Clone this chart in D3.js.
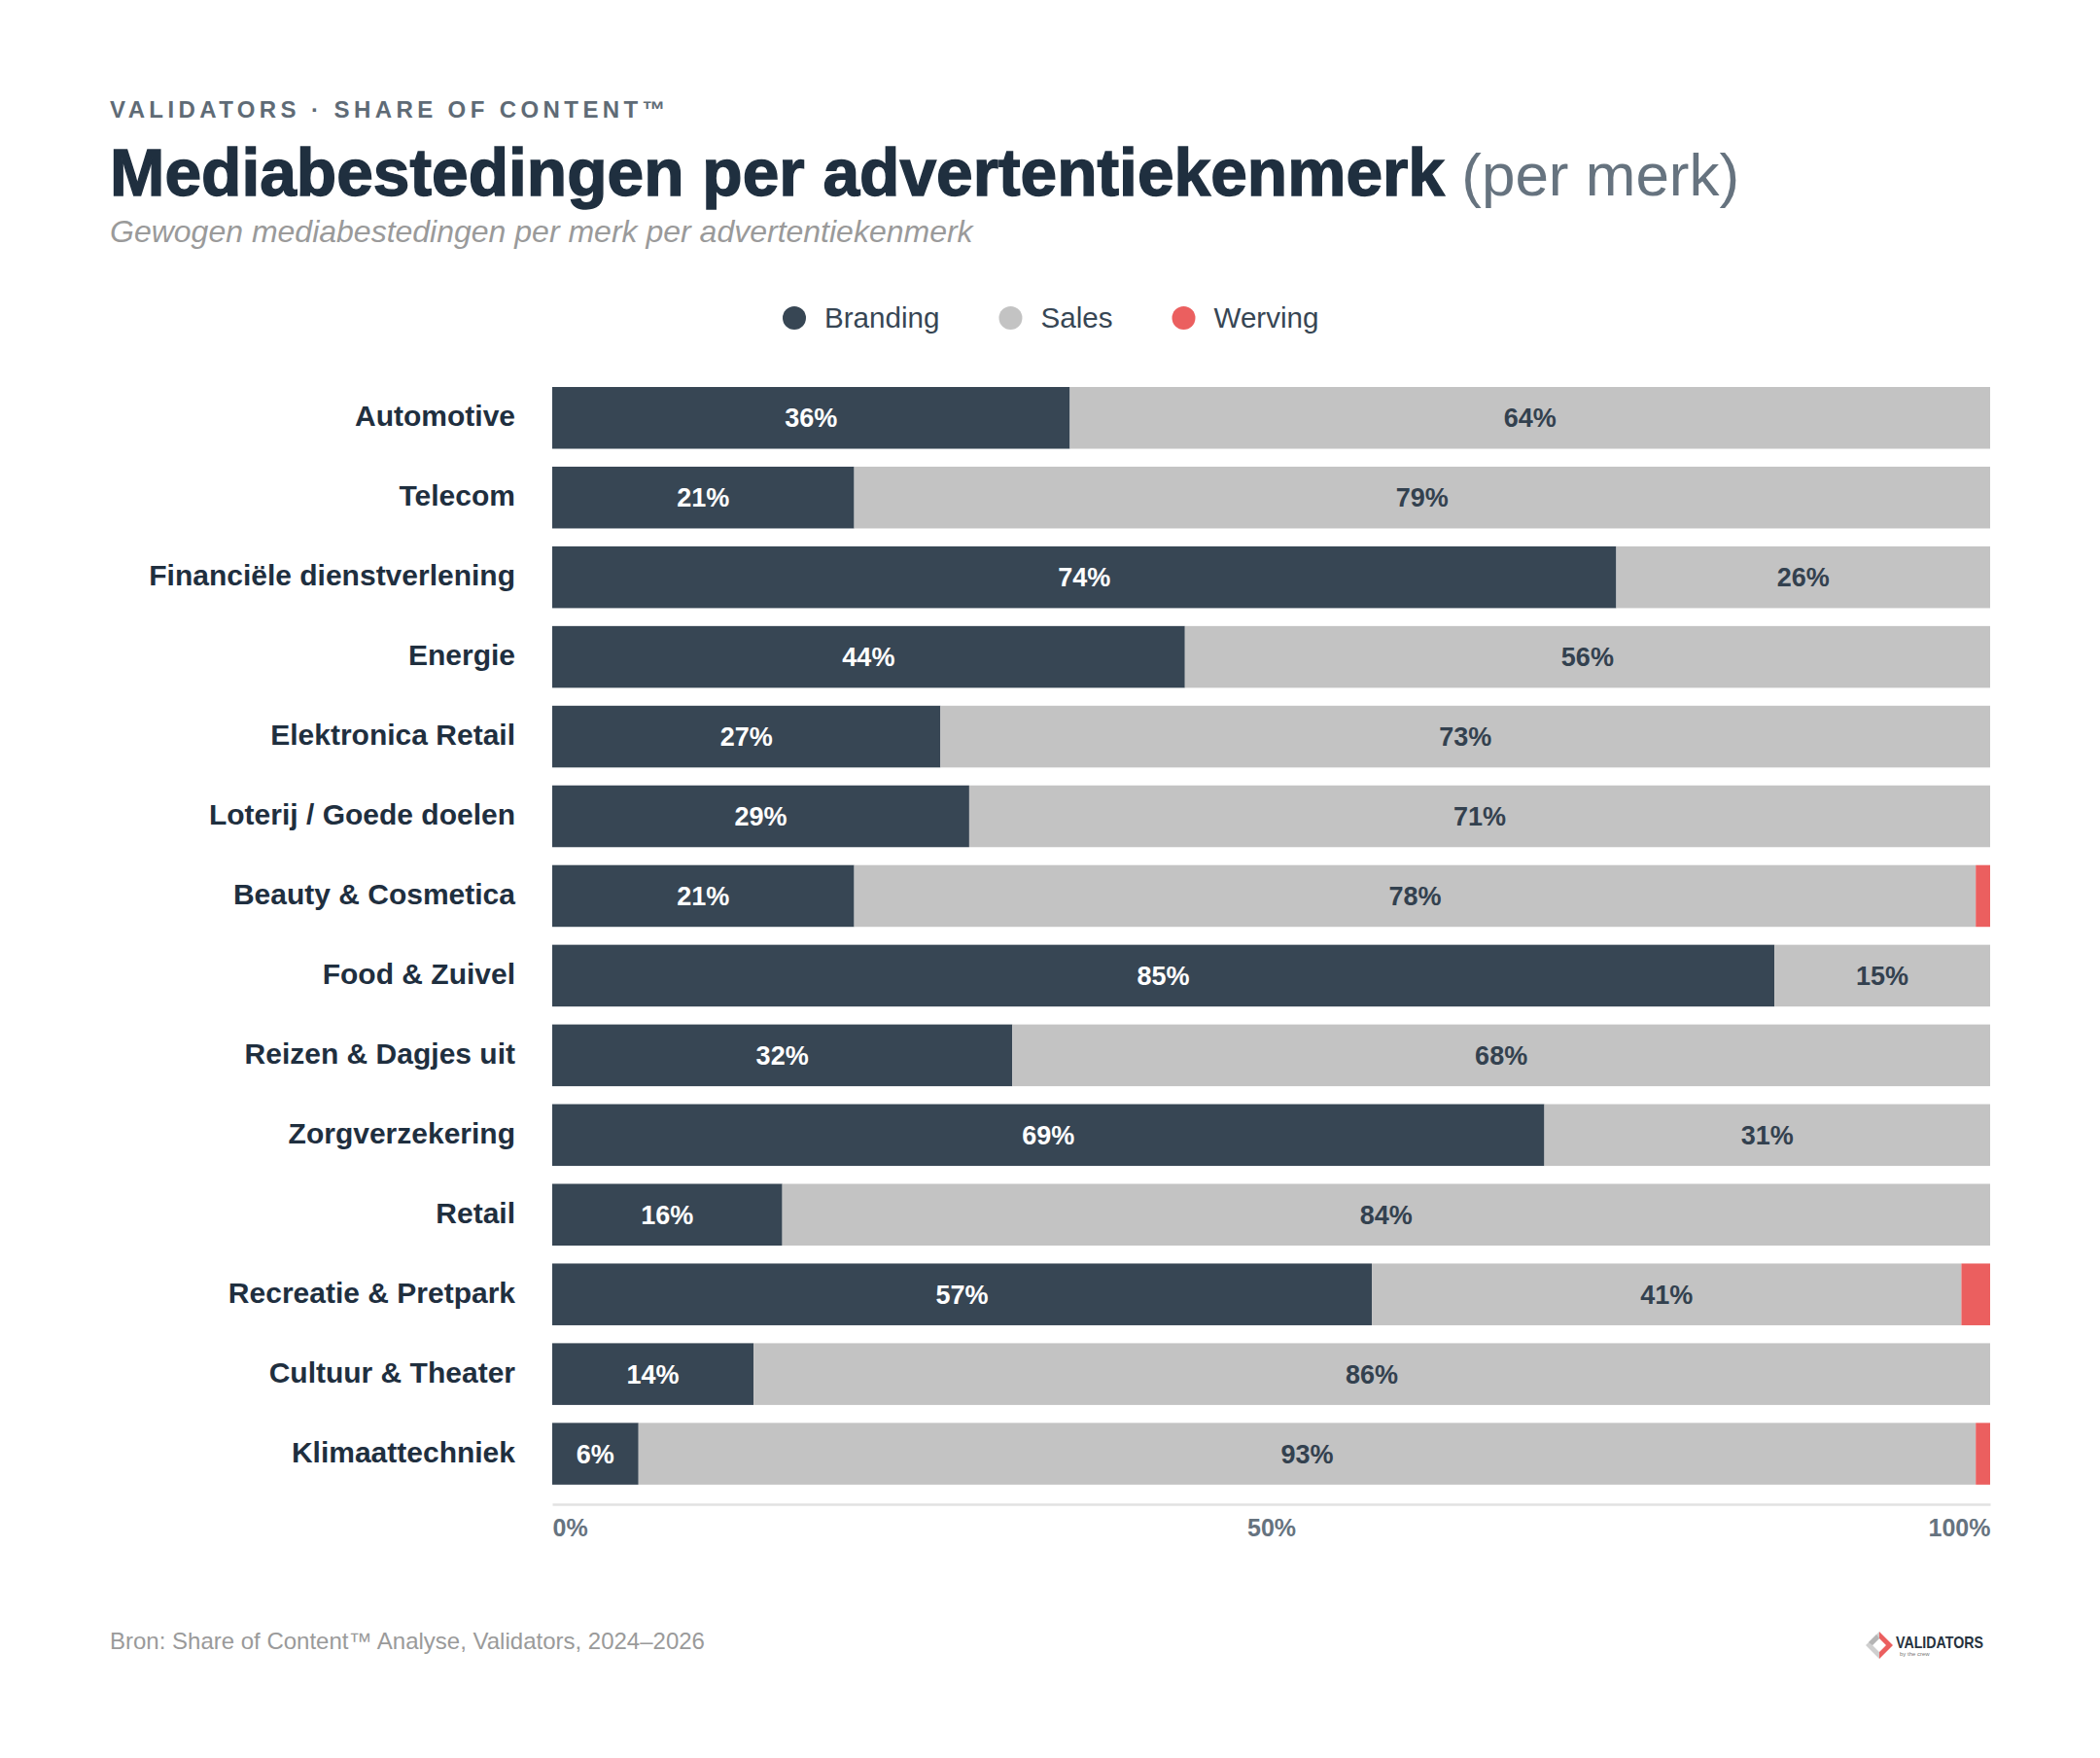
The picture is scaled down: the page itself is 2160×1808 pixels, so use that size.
<!DOCTYPE html>
<html>
<head>
<meta charset="utf-8">
<script src="https://cdn.jsdelivr.net/npm/d3@7"></script>
<style>
  html, body { margin: 0; padding: 0; background: #ffffff; }
  svg { display: block; font-family: "Liberation Sans", Arial, Helvetica, sans-serif; }
</style>
</head>
<body>
<svg id="chart" width="2160" height="1808"></svg>
<script>
const categories = [
  "Automotive", "Telecom", "Financiële dienstverlening", "Energie",
  "Elektronica Retail", "Loterij / Goede doelen", "Beauty & Cosmetica",
  "Food & Zuivel", "Reizen & Dagjes uit", "Zorgverzekering", "Retail",
  "Recreatie & Pretpark", "Cultuur & Theater", "Klimaattechniek"
];
const branding = [36, 21, 74, 44, 27, 29, 21, 85, 32, 69, 16, 57, 14, 6];
const sales    = [64, 79, 26, 56, 73, 71, 78, 15, 68, 31, 84, 41, 86, 93];
const werving  = [0, 0, 0, 0, 0, 0, 1, 0, 0, 0, 0, 2, 0, 1];
const seriesNames = ["Branding", "Sales", "Werving"];
const seriesColors = ["#374654", "#c3c3c3", "#eb5f5f"];
const labelColors = ["#ffffff", "#33414f", "#ffffff"];
const xTickValues = [0, 50, 100];

const svg = d3.select("#chart");
const W = 2160, H = 1808;
svg.append("rect").attr("width", W).attr("height", H).attr("fill", "#ffffff");

// Header
svg.append("text")
  .attr("x", 113).attr("y", 121)
  .attr("font-size", 24).attr("font-weight", 700)
  .attr("letter-spacing", 4.4)
  .attr("fill", "#5f6b76")
  .text("VALIDATORS · SHARE OF CONTENT™");

const title = svg.append("text")
  .attr("x", 113).attr("y", 201)
  .attr("font-size", 67.7).attr("font-weight", 700)
  .attr("fill", "#1f2f3f");
title.append("tspan")
  .attr("stroke", "#1f2f3f").attr("stroke-width", 1.4).attr("paint-order", "stroke")
  .text("Mediabestedingen per advertentiekenmerk");
title.append("tspan").attr("font-weight", 400).attr("font-size", 62)
  .attr("fill", "#66737f").text(" (per merk)");

svg.append("text")
  .attr("x", 113).attr("y", 249)
  .attr("font-size", 32).attr("font-style", "italic")
  .attr("fill", "#9a9a9a")
  .text("Gewogen mediabestedingen per merk per advertentiekenmerk");

// Legend
const legend = svg.append("g");
let lx = 817;
seriesNames.forEach((name, i) => {
  const g = legend.append("g").attr("transform", `translate(${lx},327)`);
  g.append("circle").attr("r", 12).attr("fill", seriesColors[i]);
  const t = g.append("text").attr("x", 31).attr("dy", "0.35em")
    .attr("font-size", 29.6).attr("fill", "#374654").text(name);
  const w = t.node().getComputedTextLength();
  lx += 31 + w + 73;
});

// Scales
const x = d3.scaleLinear().domain([0, 100]).range([568, 2047]);
const y = d3.scaleBand().domain(categories)
  .range([398 - 0.225 * 81.95, 398 - 0.225 * 81.95 + 81.95 * (14 + 0.225)])
  .paddingInner(0.225).paddingOuter(0.225);

const rows = categories.map((c, i) => ({ cat: c, Branding: branding[i], Sales: sales[i], Werving: werving[i] }));
const stacked = d3.stack().keys(seriesNames)(rows);

const barsG = svg.append("g");
stacked.forEach((layer, si) => {
  const lg = barsG.append("g");
  lg.selectAll("rect").data(layer).join("rect")
    .attr("x", d => x(d[0]))
    .attr("y", d => y(d.data.cat))
    .attr("width", d => Math.max(0, x(d[1]) - x(d[0])))
    .attr("height", y.bandwidth())
    .attr("fill", seriesColors[si]);
  lg.selectAll("text").data(layer.filter(d => d[1] - d[0] >= 3)).join("text")
    .attr("x", d => (x(d[0]) + x(d[1])) / 2)
    .attr("y", d => y(d.data.cat) + y.bandwidth() / 2)
    .attr("dy", "0.35em")
    .attr("text-anchor", "middle")
    .attr("font-size", 27).attr("font-weight", 700)
    .attr("fill", labelColors[si])
    .text(d => Math.round(d[1] - d[0]) + "%");
});

// Category labels
svg.append("g").selectAll("text").data(categories).join("text")
  .attr("x", 530)
  .attr("y", d => y(d) + y.bandwidth() / 2)
  .attr("dy", "0.28em")
  .attr("text-anchor", "end")
  .attr("font-size", 30).attr("font-weight", 700)
  .attr("fill", "#1f2f3f")
  .text(d => d);

// X axis
const axisG = svg.append("g").attr("transform", "translate(0,1547)")
  .call(d3.axisBottom(x).tickValues(xTickValues).tickFormat(d => d + "%").tickSize(0).tickSizeOuter(0));
axisG.select(".domain").attr("stroke", "#e2e2e2").attr("stroke-width", 2.5);
axisG.selectAll(".tick text")
  .attr("y", 15)
  .attr("font-size", 25).attr("font-weight", 700)
  .attr("font-family", "'Liberation Sans', Arial, sans-serif")
  .attr("fill", "#66737f")
  .attr("text-anchor", (d, i) => i === 0 ? "start" : (i === xTickValues.length - 1 ? "end" : "middle"));

// Footer
svg.append("text")
  .attr("x", 113).attr("y", 1696)
  .attr("font-size", 24).attr("fill", "#9a9a9a")
  .text("Bron: Share of Content™ Analyse, Validators, 2024–2026");

// Logo
const logo = svg.append("g").attr("transform", "translate(1933,1692)");
logo.append("path").attr("d", "M0,-14 L-14,0 L0,14 L0,7 L-7,0 L0,-7 Z").attr("fill", "#cfcfcf");
logo.append("path").attr("d", "M-3,-11 L-11,-3 L-7,0 L0,-7 Z").attr("fill", "#b5b5b5");
logo.append("path").attr("d", "M0,-14 L14,0 L0,14 L0,7 L7,0 L0,-7 Z").attr("fill", "#eb5f5f");
logo.append("text").attr("x", 17).attr("y", 3)
  .attr("font-size", 17).attr("font-weight", 700).attr("fill", "#26323e")
  .attr("textLength", 90).attr("lengthAdjust", "spacingAndGlyphs")
  .text("VALIDATORS");
logo.append("text").attr("x", 21).attr("y", 11)
  .attr("font-size", 6).attr("fill", "#777")
  .text("by the crew");
</script>
</body>
</html>
